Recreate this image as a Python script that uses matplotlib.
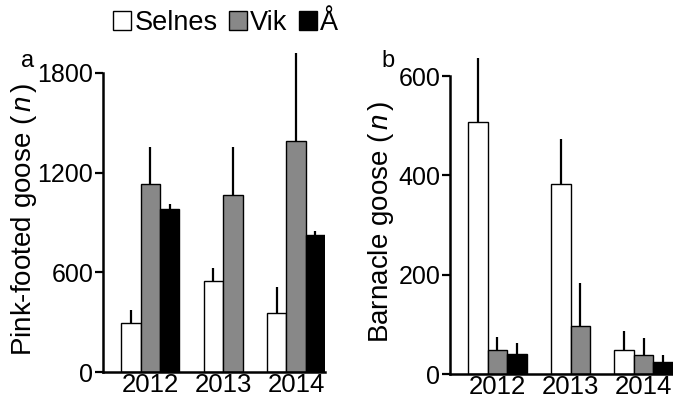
import matplotlib
matplotlib.use("Agg")
import matplotlib.pyplot as plt
from matplotlib.patches import Patch

plt.rcParams['font.family'] = ['Liberation Sans', 'DejaVu Sans']
plt.rcParams['mathtext.fontset'] = 'custom'
plt.rcParams['mathtext.rm'] = 'Liberation Sans'
plt.rcParams['mathtext.it'] = 'Liberation Sans:italic'

#### Data, None = no bar
years = ["2012", "2013", "2014"]
sites = ["Selnes", "Vik", "Å"]
colours = ["white", "#888888", "black"]

pink_mean = {"Selnes": [296, 549, 358],
             "Vik":    [1134, 1068, 1392],
             "Å":      [981, None, 824]}
pink_err = {"Selnes": [80, 80, 155],
            "Vik":    [223, 289, 529],
            "Å":      [31, None, 25]}

barn_mean = {"Selnes": [508, 383, 48],
             "Vik":    [49, 97, 38],
             "Å":      [41, None, 25]}
barn_err = {"Selnes": [129, 91, 38],
            "Vik":    [26, 87, 34],
            "Å":      [21, None, 13]}

W = 0.266


def draw_panel(ax, means, errs, ymax, yticks, ylabel, labx, laby):
   for g in range(len(years)):
      present = [s for s in sites if means[s][g] is not None]
      n = len(present)
      for k, s in enumerate(present):
         x = g + (k - (n - 1) / 2.0) * W
         ax.bar(x, means[s][g], W, color=colours[sites.index(s)],
                edgecolor="black", linewidth=1.0, zorder=2)
         top = means[s][g]
         ax.vlines(x, top, top + errs[s][g], color="black", lw=1.6,
                   clip_on=False, zorder=1)
   ax.set_xlim(-0.65, 2 + 1.5 * W)
   ax.set_ylim(0, ymax)
   ax.set_yticks(yticks)
   ax.set_xticks(range(len(years)))
   ax.set_xticklabels(years)
   ax.tick_params(axis="x", length=0, labelsize=18.5, pad=0.5)
   ax.tick_params(axis="y", length=6, width=1.6, labelsize=18, pad=1)
   for sp in ["top", "right"]:
      ax.spines[sp].set_visible(False)
   for sp in ["left", "bottom"]:
      ax.spines[sp].set_linewidth(1.8)
   ax.set_ylabel(ylabel, fontsize=20)
   ax.yaxis.set_label_coords(labx, laby)


fig = plt.figure(figsize=(6.73, 4.05), dpi=100)
ax1 = fig.add_axes([0.153, 33 / 405, 0.330, 299 / 405])
ax2 = fig.add_axes([0.6686, 31 / 405, 0.331, 298 / 405])

draw_panel(ax1, pink_mean, pink_err, 1800, [0, 600, 1200, 1800],
           r"Pink-footed goose ($\,\it{n}\,$)", -0.288, 0.51)
draw_panel(ax2, barn_mean, barn_err, 600, [0, 200, 400, 600],
           r"Barnacle goose ($\,\it{n}\,$)", -0.242, 0.51)

# panel letters
fig.text(28 / 673, 1 - 67 / 405, "a", fontsize=17, ha="center", va="baseline")
fig.text(388 / 673, 1 - 67 / 405, "b", fontsize=17, ha="center", va="baseline")

handles = [Patch(facecolor=c, edgecolor="black", linewidth=1.0) for c in colours]
fig.legend(handles, sites, loc="upper left", bbox_to_anchor=(113 / 673, 1 - 10 / 405),
           ncol=3, frameon=False, fontsize=19.5, handlelength=0.68,
           handleheight=0.68, handletextpad=0.12, columnspacing=0.4,
           borderaxespad=0, borderpad=0)

fig.savefig("out.png", dpi=100)
